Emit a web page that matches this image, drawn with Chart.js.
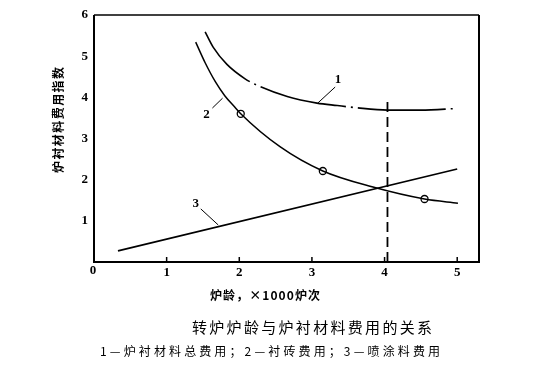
<!DOCTYPE html>
<html><head><meta charset="utf-8">
<script src="https://cdn.jsdelivr.net/npm/chart.js@4.4.1/dist/chart.umd.min.js"></script>
<style>html,body{margin:0;padding:0;background:#fff;}canvas{display:block}</style>
</head><body>
<canvas id="c" width="541" height="375"></canvas>
<script>
// ---- data ----
const xTickValues = [0, 1, 2, 3, 4, 5];
const yTickValues = [1, 2, 3, 4, 5, 6];
// curve 1: total lining material cost (dash-dot)
const totalX = [1.53, 1.64, 1.83, 2.08, 2.25, 2.66, 3.07, 3.35, 3.60, 4.04, 4.50, 5.00];
const totalY = [5.59, 5.22, 4.80, 4.45, 4.29, 4.02, 3.86, 3.80, 3.75, 3.69, 3.69, 3.73];
// curve 2: lining brick cost
const brickX = [1.40, 1.53, 1.67, 1.80, 1.94, 2.02, 2.56, 3.15, 3.84, 4.55, 5.01];
const brickY = [5.34, 4.84, 4.38, 4.04, 3.76, 3.60, 2.80, 2.21, 1.82, 1.53, 1.43];
// measured points on curve 2 (open circles)
const brickPtsX = [2.02, 3.15, 4.55];
const brickPtsY = [3.60, 2.21, 1.53];
// curve 3: gunning material cost (straight line)
const gunX = [0.33, 5.00];
const gunY = [0.27, 2.26];
// vertical dashed marker at furnace age ~4.04
const markX = [4.04, 4.04];
const markY = [0, 3.93];
// curve labels and their leader lines
const curveLabels = ['1', '2', '3'];
const labelX = [3.36, 1.55, 1.40];
const labelY = [4.42, 3.57, 1.41];
const leadFromX = [3.32, 1.63, 1.47];
const leadFromY = [4.25, 3.74, 1.29];
const leadToX = [3.08, 1.77, 1.71];
const leadToY = [3.86, 3.98, 0.90];

const yTitle = '炉衬材料费用指数';
const xTitle = '炉龄，×1000炉次';
const caption1 = '转炉炉龄与炉衬材料费用的关系';
const caption2 = '1—炉衬材料总费用；2—衬砖费用；3—喷涂料费用';

const pts = (xs, ys) => xs.map((x, i) => ({x, y: ys[i]}));

function spacedText(ctx, text, cx, cy, width) {
  const chars = Array.from(text);
  const ws = chars.map(c => ctx.measureText(c).width);
  const total = ws.reduce((a, b) => a + b, 0);
  const gap = chars.length > 1 ? (width - total) / (chars.length - 1) : 0;
  let x = cx - width / 2;
  ctx.textAlign = 'left';
  chars.forEach((c, i) => { ctx.fillText(c, x, cy); x += ws[i] + gap; });
}

const decor = {
  id: 'decor',
  afterDraw(chart) {
    const {ctx, chartArea: a, scales: {x, y}} = chart;
    ctx.save();
    ctx.strokeStyle = '#000';
    ctx.fillStyle = '#000';
    // frame
    ctx.lineWidth = 2;
    ctx.beginPath();
    ctx.moveTo(a.left, a.top); ctx.lineTo(a.left, a.bottom); ctx.lineTo(a.right, a.bottom); ctx.lineTo(a.right, a.top);
    ctx.stroke();
    ctx.lineWidth = 1.3;
    ctx.beginPath(); ctx.moveTo(a.left, a.top); ctx.lineTo(a.right, a.top); ctx.stroke();
    // inward x ticks
    ctx.lineWidth = 1.5;
    xTickValues.forEach(v => {
      if (v === 0) return;
      const px = x.getPixelForValue(v);
      ctx.beginPath(); ctx.moveTo(px, a.bottom); ctx.lineTo(px, a.bottom - 5); ctx.stroke();
    });
    // curve labels and leaders
    ctx.lineWidth = 1;
    ctx.font = 'bold 13px "Liberation Serif"';
    ctx.textAlign = 'center'; ctx.textBaseline = 'middle';
    curveLabels.forEach((t, i) => {
      ctx.fillText(t, x.getPixelForValue(labelX[i]), y.getPixelForValue(labelY[i]));
      ctx.beginPath();
      ctx.moveTo(x.getPixelForValue(leadFromX[i]), y.getPixelForValue(leadFromY[i]));
      ctx.lineTo(x.getPixelForValue(leadToX[i]), y.getPixelForValue(leadToY[i]));
      ctx.stroke();
    });
    // origin label
    ctx.fillText('0', a.left - 1, a.bottom + 9);
    // y title
    ctx.save();
    ctx.translate(58, 120);
    ctx.rotate(-Math.PI / 2);
    ctx.font = 'bold 12px "Noto Sans CJK SC"';
    ctx.textBaseline = 'middle';
    spacedText(ctx, yTitle, 0, 0, 106);
    ctx.restore();
    // x title
    ctx.font = 'bold 12px "Noto Sans CJK SC"';
    ctx.textBaseline = 'middle';
    spacedText(ctx, xTitle, 265, 295, 110);
    // captions
    ctx.font = '15px "Noto Sans CJK SC"';
    spacedText(ctx, caption1, 312, 327, 240);
    ctx.font = '12px "Noto Sans CJK SC"';
    spacedText(ctx, caption2, 270, 351, 340);
    ctx.restore();
  }
};

new Chart(document.getElementById('c'), {
  type: 'line',
  data: {
    datasets: [
      {label: '1', data: pts(totalX, totalY), borderColor: '#000', borderWidth: 1.6, borderDash: [88, 5, 2, 5], borderDashOffset: 20, pointRadius: 0, cubicInterpolationMode: 'monotone', fill: false},
      {label: '2', data: pts(brickX, brickY), borderColor: '#000', borderWidth: 1.5, pointRadius: 0, cubicInterpolationMode: 'monotone', fill: false},
      {label: '2pts', type: 'scatter', data: pts(brickPtsX, brickPtsY), borderColor: '#000', backgroundColor: '#fff', borderWidth: 1.3, pointRadius: 3.5, showLine: false},
      {label: '3', data: pts(gunX, gunY), borderColor: '#000', borderWidth: 1.7, pointRadius: 0, fill: false},
      {label: 'mark', data: pts(markX, markY), borderColor: '#000', borderWidth: 1.8, borderDash: [10, 5], pointRadius: 0, fill: false}
    ]
  },
  options: {
    responsive: false,
    animation: false,
    events: [],
    layout: {padding: {left: 0, top: 15, right: 62, bottom: 0}},
    plugins: {legend: {display: false}, tooltip: {enabled: false}},
    scales: {
      x: {
        type: 'linear', min: 0, max: 5.3,
        afterBuildTicks: s => { s.ticks = xTickValues.filter(v => v !== 0).map(v => ({value: v})); },
        afterFit: s => { s.height = 113; },
        grid: {display: false, drawTicks: false},
        border: {display: false},
        ticks: {color: '#000', padding: 3, font: {family: 'Liberation Serif', weight: 'bold', size: 13}}
      },
      y: {
        type: 'linear', min: 0, max: 6,
        afterBuildTicks: s => { s.ticks = yTickValues.map(v => ({value: v})); },
        afterFit: s => { s.width = 94; },
        grid: {display: false, drawTicks: false},
        border: {display: false},
        ticks: {color: '#000', padding: 6, font: {family: 'Liberation Serif', weight: 'bold', size: 13}}
      }
    }
  },
  plugins: [decor]
});
</script>
</body></html>
